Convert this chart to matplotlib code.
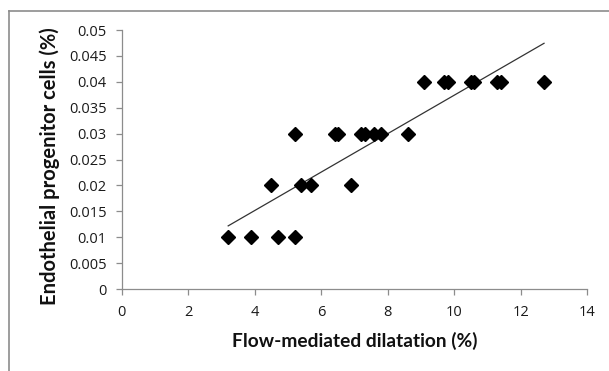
import numpy as np
import matplotlib
matplotlib.use("Agg")
import matplotlib.pyplot as plt
from matplotlib.lines import Line2D

# flow-mediated dilatation (%) and EPC (%)
fmd = [3.2, 3.9, 4.7, 5.2,
       4.5, 5.4, 5.7, 6.9,
       5.2, 6.4, 6.5, 7.2, 7.3, 7.6, 7.8, 8.6,
       9.1, 9.7, 9.8, 10.5, 10.6, 11.3, 11.4, 12.7]
epc = [0.01, 0.01, 0.01, 0.01,
       0.02, 0.02, 0.02, 0.02,
       0.03, 0.03, 0.03, 0.03, 0.03, 0.03, 0.03, 0.03,
       0.04, 0.04, 0.04, 0.04, 0.04, 0.04, 0.04, 0.04]
x_ticks = [0, 2, 4, 6, 8, 10, 12, 14]
y_ticks = [0, 0.005, 0.01, 0.015, 0.02, 0.025, 0.03, 0.035, 0.04, 0.045, 0.05]
y_tick_labels = ["0", "0.005", "0.01", "0.015", "0.02", "0.025", "0.03",
                 "0.035", "0.04", "0.045", "0.05"]

plt.rcParams['font.family'] = ['Open Sans', 'DejaVu Sans']
grey = "#8c8c8c"

fig = plt.figure(figsize=(6.09, 3.71), dpi=100)
ax = fig.add_axes([0.2, 0.221, 0.7643, 0.698])

# linear trendline
slope, intercept = np.polyfit(fmd, epc, 1)
xs = np.array([min(fmd), max(fmd)])
ax.plot(xs, slope * xs + intercept, color="#333333", linewidth=0.9)

ax.plot(fmd, epc, linestyle="none", marker="D", markersize=6.8,
        color="black")

ax.set_xlim(0, 14)
ax.set_ylim(0, 0.05)
ax.set_xticks(x_ticks)
ax.set_yticks(y_ticks)
ax.set_yticklabels(y_tick_labels)

for side in ["top", "right"]:
    ax.spines[side].set_visible(False)
for side in ["left", "bottom"]:
    ax.spines[side].set_color(grey)
    ax.spines[side].set_linewidth(0.9)
ax.tick_params(direction="out", length=4, width=0.9, color=grey,
               labelsize=10.5, labelcolor="#1a1a1a")
ax.tick_params(axis="y", pad=7)
ax.tick_params(axis="x", pad=7.5)

label_font = ['Lato', 'DejaVu Sans']
fig.text(354.5 / 609, 1 - 341 / 371, "Flow-mediated dilatation (%)",
         fontsize=13.8, fontweight="bold", ha="center", va="center",
         color="#111111", family=label_font)
fig.text(50 / 609, 1 - 166 / 371, "Endothelial progenitor cells (%)",
         fontsize=14.5, fontweight="bold", ha="center", va="center",
         rotation=90, color="#111111", family=label_font)

# outer chart frame (only left and top edges visible in the crop)
fig.add_artist(Line2D([9 / 609, 9 / 609], [0, 1 - 11 / 371],
                      color=grey, linewidth=1.2))
fig.add_artist(Line2D([9 / 609, 1], [1 - 11 / 371, 1 - 11 / 371],
                      color=grey, linewidth=1.2))

fig.savefig("out.png", dpi=100)
